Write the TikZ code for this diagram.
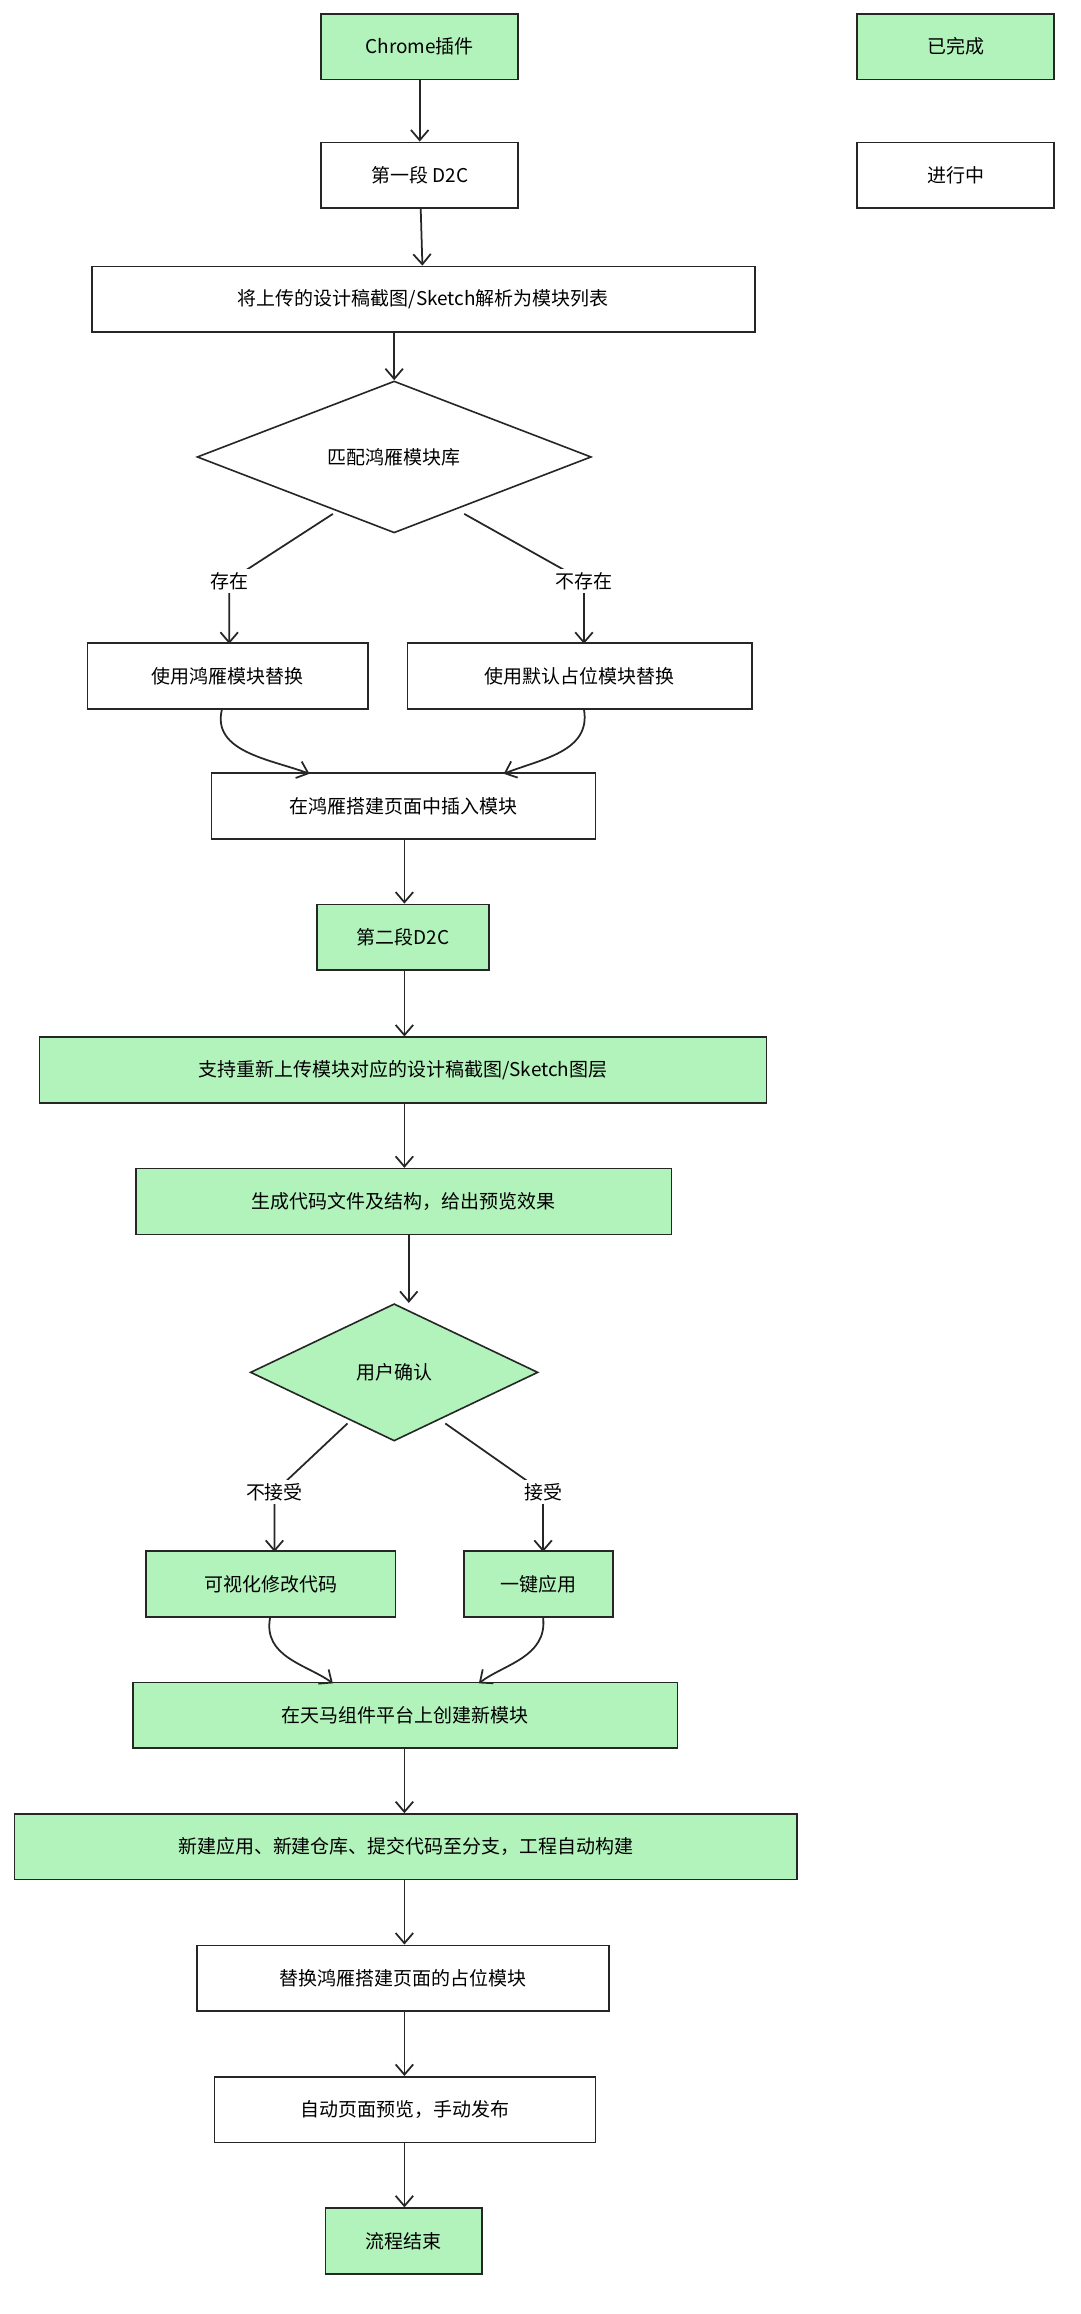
\documentclass[tikz,border=0pt]{standalone}
\usepackage{fontspec}
\newfontfamily\cjk{Noto Sans CJK SC}
\usetikzlibrary{shapes.geometric,arrows.meta}
\definecolor{gr}{HTML}{B2F2BB}
\begin{document}
\begin{tikzpicture}[x=1pt,y=-1pt,font=\cjk\fontsize{13}{15}\selectfont,
 box/.style={draw=black!85,line width=1.1pt,minimum height=45pt,inner sep=0pt},
 g/.style={fill=gr},
 dia/.style={draw=black!85,line width=1.1pt,diamond,aspect=2.6,inner sep=0pt},
 ar/.style={draw=black!85,line width=1.2pt,-{Straight Barb[length=7pt,width=12pt]}},
 lab/.style={fill=white,inner sep=2pt}]
\useasboundingbox[fill=white] (0,0) rectangle (740,1585);
\newcommand\bx[6]{\node[box,#6,minimum width=#3-#2] (#1) at ({(#2+#3)/2},{#4}) {#5};}
\bx{chrome}{220}{355}{32}{Chrome插件}{g}
\bx{done}{587}{722}{32}{已完成}{g}
\bx{prog}{587}{722}{120}{进行中}{}
\bx{d1}{220}{355}{120}{第一段 D2C}{}
\bx{parse}{63}{517}{205}{将上传的设计稿截图/Sketch解析为模块列表}{}
\node[dia,minimum width=270pt,minimum height=104pt] (m) at (270,313) {匹配鸿雁模块库};
\bx{use}{60}{252}{463}{使用鸿雁模块替换}{}
\bx{def}{279}{515}{463}{使用默认占位模块替换}{}
\bx{ins}{145}{408}{552}{在鸿雁搭建页面中插入模块}{}
\bx{d2}{217}{335}{642}{第二段D2C}{g}
\bx{up}{27}{525}{733}{支持重新上传模块对应的设计稿截图/Sketch图层}{g}
\bx{gen}{93}{460}{823}{生成代码文件及结构，给出预览效果}{g}
\node[dia,g,minimum width=197pt,minimum height=94pt] (u) at (270,940) {用户确认};
\bx{vis}{100}{271}{1085}{可视化修改代码}{g}
\bx{one}{318}{420}{1085}{一键应用}{g}
\bx{tm}{91}{464}{1175}{在天马组件平台上创建新模块}{g}
\bx{new}{10}{546}{1265}{新建应用、新建仓库、提交代码至分支，工程自动构建}{g}
\bx{rep}{135}{417}{1355}{替换鸿雁搭建页面的占位模块}{}
\bx{auto}{147}{408}{1445}{自动页面预览，手动发布}{}
\bx{end}{223}{330}{1535}{流程结束}{g}
\coordinate (ml) at (228,352); \coordinate (mr) at (318,352);
\coordinate (ul) at (238,975); \coordinate (ur) at (305,975);
\draw[ar] (chrome) -- (d1);
\draw[ar] (d1) -- (parse);
\draw[ar] (parse.south -| m.north) -- (m.north);
\draw[ar] (ml) -- (157,398) node[lab]{存在} -- (157,441) coordinate (a) ;
\draw[ar] (mr) -- (400,398) node[lab]{不存在} -- (400,441);
\draw[ar] (152,486) .. controls (145,515) and (185,520) .. (212,530);
\draw[ar] (400,486) .. controls (405,515) and (370,520) .. (345,530);
\draw[ar] (ins.south -| 277,0) -- (d2.north -| 277,0);
\draw[ar] (d2.south -| 277,0) -- (up.north -| 277,0);
\draw[ar] (up.south -| 277,0) -- (gen.north -| 277,0);
\draw[ar] (gen.south -| 280,0) -- (u.north -| 280,0);
\draw[ar] (ul) -- (188,1022) node[lab]{不接受} -- (188,1063);
\draw[ar] (ur) -- (372,1022) node[lab]{接受} -- (372,1063);
\draw[ar] (185,1108) .. controls (180,1135) and (210,1140) .. (228,1153);
\draw[ar] (372,1108) .. controls (375,1135) and (345,1140) .. (328,1153);
\draw[ar] (tm.south -| 277,0) -- (new.north -| 277,0);
\draw[ar] (new.south -| 277,0) -- (rep.north -| 277,0);
\draw[ar] (rep.south -| 277,0) -- (auto.north -| 277,0);
\draw[ar] (auto.south -| 277,0) -- (end.north -| 277,0);
\end{tikzpicture}
\end{document}
